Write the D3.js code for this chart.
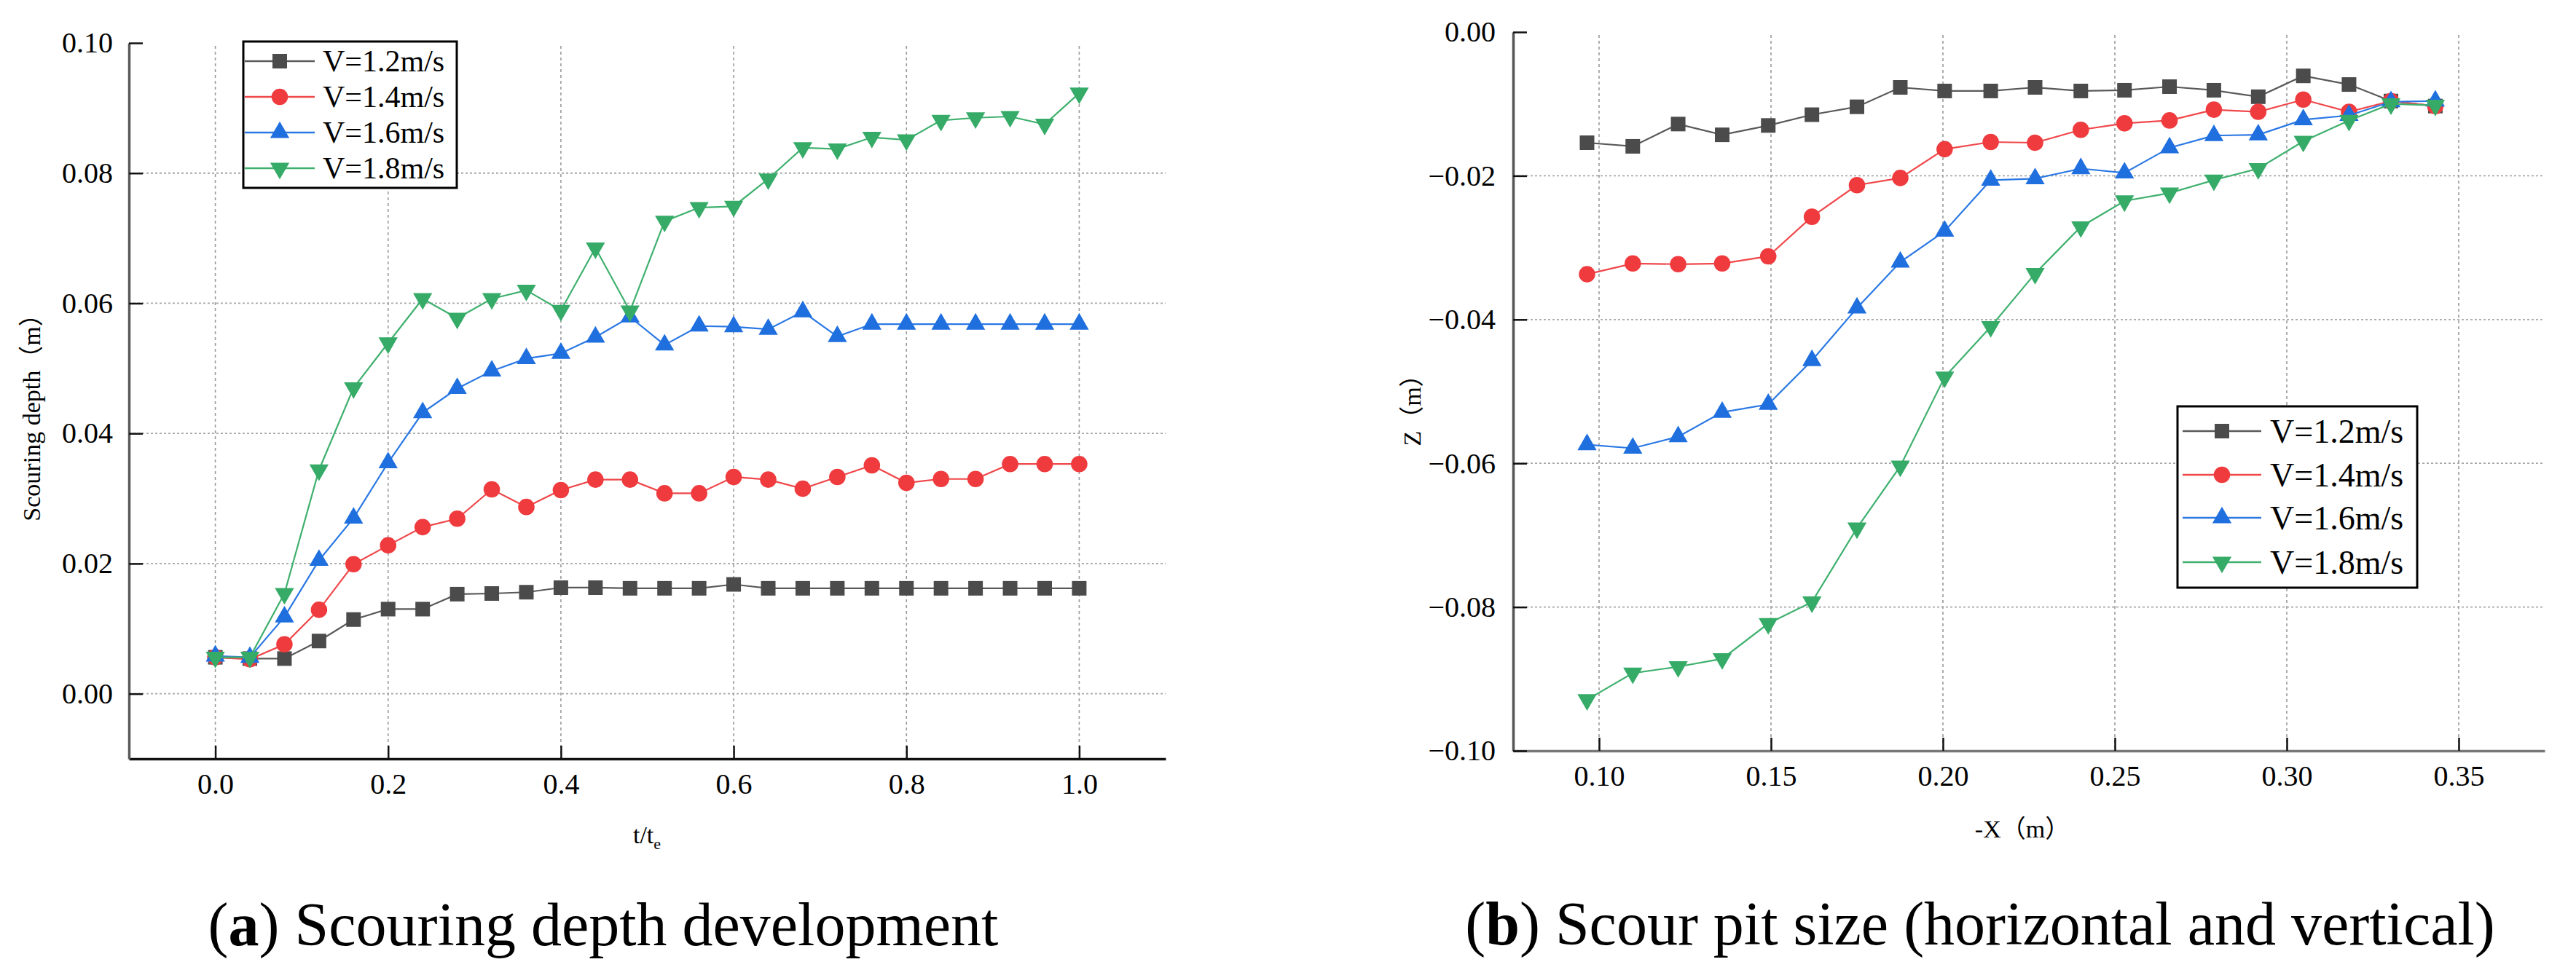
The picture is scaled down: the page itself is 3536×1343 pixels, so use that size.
<!DOCTYPE html>
<html>
<head>
<meta charset="utf-8">
<script src="https://cdn.jsdelivr.net/npm/d3@7"></script>
<style>
  html, body { margin: 0; padding: 0; background: #fff; }
  svg { display: block; }
  text { font-family: "Liberation Serif", "Times New Roman", "Noto Sans CJK SC", serif; fill: #000; }
</style>
</head>
<body>
<svg id="chart" width="3536" height="1343"></svg>
<script>
// ---------------- DATA ----------------
const seriesNames = ["V=1.2m/s", "V=1.4m/s", "V=1.6m/s", "V=1.8m/s"];
const seriesColors = ["#4b4b4b", "#ef3b3e", "#1f6fdf", "#35ab67"];
const seriesLineColors = ["#595959", "#f0474a", "#2a78e4", "#3fb06e"];
const seriesSymbols = ["square", "circle", "triangleUp", "triangleDown"];

// Panel (a): scouring depth development
const tRatio = [0, 0.04, 0.08, 0.12, 0.16, 0.20, 0.24, 0.28, 0.32, 0.36, 0.40, 0.44, 0.48,
                0.52, 0.56, 0.60, 0.64, 0.68, 0.72, 0.76, 0.80, 0.84, 0.88, 0.92, 0.96, 1.00];
const depthV12 = [0.0056, 0.0054, 0.0054, 0.0081, 0.0114, 0.0130, 0.0130, 0.0153, 0.0154, 0.0156, 0.0163, 0.0163, 0.0162,
                  0.0162, 0.0162, 0.0168, 0.0162, 0.0162, 0.0162, 0.0162, 0.0162, 0.0162, 0.0162, 0.0162, 0.0162, 0.0162];
const depthV14 = [0.0056, 0.0053, 0.0076, 0.0129, 0.0199, 0.0228, 0.0256, 0.0269, 0.0314, 0.0287, 0.0313, 0.0329, 0.0329,
                  0.0308, 0.0308, 0.0333, 0.0329, 0.0315, 0.0333, 0.0351, 0.0324, 0.0330, 0.0330, 0.0353, 0.0353, 0.0353];
const depthV16 = [0.0058, 0.0056, 0.0118, 0.0205, 0.0270, 0.0355, 0.0432, 0.0469, 0.0496, 0.0515, 0.0523, 0.0548, 0.0579,
                  0.0536, 0.0565, 0.0564, 0.0560, 0.0587, 0.0549, 0.0568, 0.0568, 0.0568, 0.0568, 0.0568, 0.0568, 0.0568];
const depthV18 = [0.0056, 0.0056, 0.0154, 0.0344, 0.0470, 0.0539, 0.0607, 0.0577, 0.0607, 0.0620, 0.0589, 0.0685, 0.0588,
                  0.0726, 0.0747, 0.0749, 0.0791, 0.0839, 0.0837, 0.0855, 0.0851, 0.0881, 0.0885, 0.0887, 0.0875, 0.0923];

// Panel (b): scour pit profile
const pitX = [0.0965, 0.1098, 0.1230, 0.1358, 0.1492, 0.1619, 0.1750, 0.1876, 0.2005, 0.2139,
              0.2268, 0.2401, 0.2528, 0.2659, 0.2788, 0.2917, 0.3048, 0.3181, 0.3303, 0.3432];
const pitZV12 = [-0.0154, -0.0159, -0.0128, -0.0143, -0.0130, -0.0115, -0.0104, -0.0077, -0.0082, -0.0082,
                 -0.0077, -0.0082, -0.0081, -0.0076, -0.0081, -0.0090, -0.0061, -0.0073, -0.0096, -0.0103];
const pitZV14 = [-0.0337, -0.0322, -0.0323, -0.0322, -0.0312, -0.0257, -0.0213, -0.0203, -0.0163, -0.0153,
                 -0.0154, -0.0136, -0.0127, -0.0123, -0.0108, -0.0111, -0.0094, -0.0111, -0.0096, -0.0103];
const pitZV16 = [-0.0574, -0.0579, -0.0563, -0.0529, -0.0518, -0.0457, -0.0384, -0.0320, -0.0277, -0.0206,
                 -0.0204, -0.0190, -0.0196, -0.0161, -0.0144, -0.0143, -0.0122, -0.0116, -0.0097, -0.0096];
const pitZV18 = [-0.0929, -0.0892, -0.0883, -0.0872, -0.0823, -0.0793, -0.0690, -0.0604, -0.0480, -0.0410,
                 -0.0336, -0.0271, -0.0235, -0.0224, -0.0206, -0.0190, -0.0152, -0.0123, -0.0100, -0.0102];

// Tick values
const aXMajor = [0, 0.2, 0.4, 0.6, 0.8, 1.0];
const aXMinor = [-0.1, 0.1, 0.3, 0.5, 0.7, 0.9, 1.1];
const aYMajor = [0, 0.02, 0.04, 0.06, 0.08, 0.10];
const aYMinor = [-0.01, 0.01, 0.03, 0.05, 0.07, 0.09];
const bXMajor = [0.10, 0.15, 0.20, 0.25, 0.30, 0.35];
const bXMinor = [0.125, 0.175, 0.225, 0.275, 0.325, 0.375];
const bYMajor = [-0.10, -0.08, -0.06, -0.04, -0.02, 0];
const bYMinor = [-0.09, -0.07, -0.05, -0.03, -0.01];

// ---------------- DRAW ----------------
const svg = d3.select("#chart");
svg.append("rect").attr("width", 3536).attr("height", 1343).attr("fill", "#fff");

const symbolTypes = {
  square: { type: d3.symbolSquare, size: 400, rot: 0 },
  circle: { type: d3.symbolCircle, size: 400, rot: 0 },
  triangleUp: { type: d3.symbolTriangle, size: 300, rot: 0 },
  triangleDown: { type: d3.symbolTriangle, size: 300, rot: 180 }
};

function drawPanel(cfg) {
  const g = svg.append("g");
  const x = d3.scaleLinear().domain(cfg.xDomain).range(cfg.xRange);
  const y = d3.scaleLinear().domain(cfg.yDomain).range(cfg.yRange);
  const [x0, x1] = cfg.xRange;
  const [yb, yt] = cfg.yRange;

  // grid
  g.append("g").selectAll("line").data(cfg.xMajor).join("line")
    .attr("x1", d => x(d)).attr("x2", d => x(d))
    .attr("y1", yt + 4).attr("y2", yb)
    .attr("stroke", "#9a9a9a").attr("stroke-width", 1.6).attr("stroke-dasharray", "4,4");
  g.append("g").selectAll("line").data(cfg.yMajor.filter(d => y(d) > yt + 2 && y(d) < yb - 2)).join("line")
    .attr("x1", x0).attr("x2", x1)
    .attr("y1", d => y(d)).attr("y2", d => y(d))
    .attr("stroke", "#a8a8a8").attr("stroke-width", 1.8).attr("stroke-dasharray", "3,3");

  // axes
  const xAxisG = g.append("g").attr("transform", `translate(0,${yb})`);
  xAxisG.call(d3.axisBottom(x).tickValues(cfg.xMinor).tickSize(-10).tickSizeOuter(0).tickFormat(""));
  xAxisG.call(d3.axisBottom(x).tickValues(cfg.xMajor).tickSize(-18).tickSizeOuter(0)
    .tickPadding(20).tickFormat(d3.format(cfg.xFmt)));
  const yAxisG = g.append("g").attr("transform", `translate(${x0},0)`);
  yAxisG.call(d3.axisLeft(y).tickValues(cfg.yMinor).tickSize(-10).tickSizeOuter(0).tickFormat(""));
  yAxisG.call(d3.axisLeft(y).tickValues(cfg.yMajor).tickSize(-19).tickSizeOuter(0)
    .tickPadding(cfg.yPad).tickFormat(d3.format(".2f")));
  [xAxisG, yAxisG].forEach(a => {
    a.selectAll(".domain").attr("stroke", cfg.axisColor).attr("stroke-width", 3.5);
    a.selectAll(".tick line").attr("stroke", "#111").attr("stroke-width", 2.5);
    a.selectAll(".tick text").style("font-size", "40px").attr("fill", "#000")
      .style("font-family", '"Liberation Serif", "Times New Roman", serif');
  });
  xAxisG.selectAll(".domain").attr("stroke", cfg.xAxisColor);

  // series
  const line = d3.line().x(d => x(d[0])).y(d => y(d[1]));
  cfg.series.forEach((vals, i) => {
    const pts = cfg.xs.map((xv, j) => [xv, vals[j]]);
    g.append("path").datum(pts).attr("d", line)
      .attr("fill", "none").attr("stroke", seriesLineColors[i]).attr("stroke-width", 2.2);
    const s = symbolTypes[seriesSymbols[i]];
    g.append("g").selectAll("path").data(pts).join("path")
      .attr("d", d3.symbol().type(s.type).size(s.size))
      .attr("transform", d => `translate(${x(d[0])},${y(d[1])}) rotate(${s.rot})`)
      .attr("fill", seriesColors[i]);
  });

  // legend
  const L = cfg.legend;
  g.append("rect").attr("x", L.x).attr("y", L.y).attr("width", L.w).attr("height", L.h)
    .attr("fill", "#fff").attr("stroke", "#000").attr("stroke-width", 3);
  seriesNames.forEach((name, i) => {
    const ry = L.rows[i];
    g.append("line").attr("x1", L.lx0).attr("x2", L.lx1).attr("y1", ry).attr("y2", ry)
      .attr("stroke", seriesLineColors[i]).attr("stroke-width", 2.6);
    const s = symbolTypes[seriesSymbols[i]];
    g.append("path").attr("d", d3.symbol().type(s.type).size(s.size)())
      .attr("transform", `translate(${(L.lx0 + L.lx1) / 2},${ry}) rotate(${s.rot})`)
      .attr("fill", seriesColors[i]);
    g.append("text").attr("x", L.tx).attr("y", ry).attr("dy", "0.34em")
      .style("font-size", L.fs + "px").text(name);
  });
  return g;
}

// Panel (a)
const ga = drawPanel({
  xDomain: [-0.1, 1.1], xRange: [177, 1600],
  yDomain: [-0.01, 0.10], yRange: [1042, 59],
  xMajor: aXMajor, xMinor: aXMinor, yMajor: aYMajor, yMinor: aYMinor,
  xFmt: ".1f", yPad: 22, axisColor: "#5a5a5a", xAxisColor: "#111",
  xs: tRatio, series: [depthV12, depthV14, depthV16, depthV18],
  legend: { x: 334, y: 57, w: 293, h: 201, rows: [84, 133, 182, 231], lx0: 336, lx1: 432, tx: 443, fs: 42 }
});
ga.append("text").attr("transform", "translate(55,565) rotate(-90)").attr("text-anchor", "middle")
  .style("font-size", "34px").text("Scouring depth（m）");
const tt = ga.append("text").attr("x", 888).attr("y", 1158).attr("text-anchor", "middle").style("font-size", "34px");
tt.append("tspan").text("t/t");
tt.append("tspan").attr("dy", 8).style("font-size", "22px").text("e");
const capA = ga.append("text").attr("x", 828).attr("y", 1298).attr("text-anchor", "middle").style("font-size", "84px");
capA.append("tspan").text("(");
capA.append("tspan").style("font-weight", "bold").text("a");
capA.append("tspan").text(") Scouring depth development");

// Panel (b)
const gb = drawPanel({
  xDomain: [0.075, 0.375], xRange: [2077, 3493],
  yDomain: [-0.10, 0], yRange: [1031, 44],
  xMajor: bXMajor, xMinor: bXMinor, yMajor: bYMajor, yMinor: bYMinor,
  xFmt: ".2f", yPad: 24, axisColor: "#555", xAxisColor: "#777",
  xs: pitX, series: [pitZV12, pitZV14, pitZV16, pitZV18],
  legend: { x: 2989, y: 558, w: 329, h: 249, rows: [592, 652, 711, 772], lx0: 2996, lx1: 3104, tx: 3116, fs: 46 }
});
gb.append("text").attr("transform", "translate(1950,555) rotate(-90)").attr("text-anchor", "middle")
  .style("font-size", "34px").text("Z（m）");
gb.append("text").attr("x", 2776).attr("y", 1150).attr("text-anchor", "middle")
  .style("font-size", "34px").text("-X（m）");
const capB = gb.append("text").attr("x", 2718).attr("y", 1297).attr("text-anchor", "middle").style("font-size", "84px");
capB.append("tspan").text("(");
capB.append("tspan").style("font-weight", "bold").text("b");
capB.append("tspan").text(") Scour pit size (horizontal and vertical)");
</script>
</body>
</html>
